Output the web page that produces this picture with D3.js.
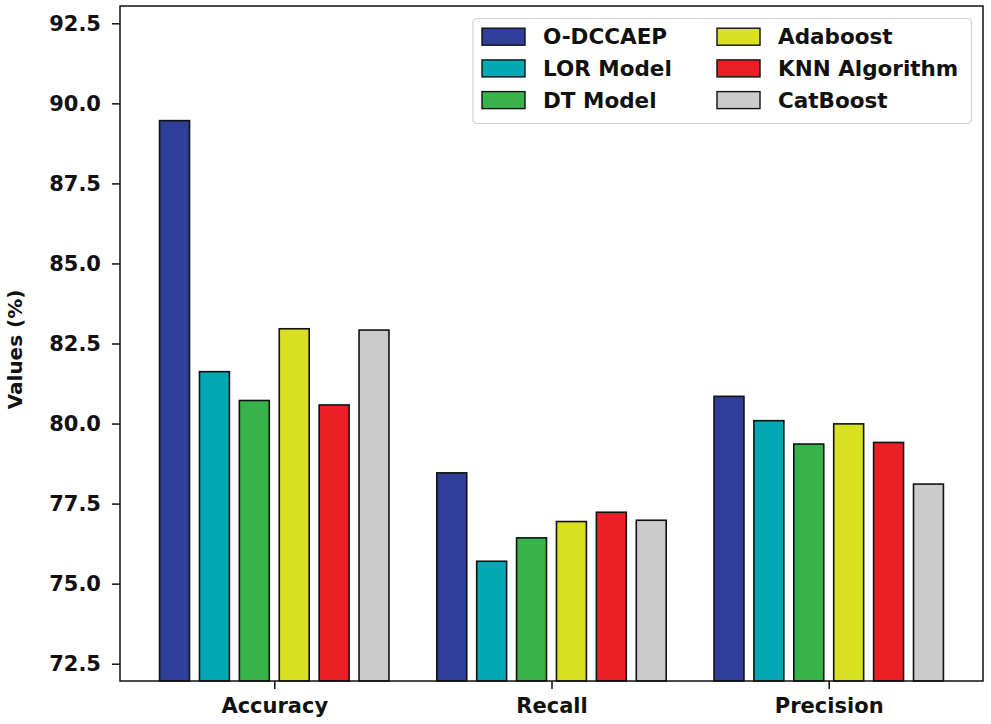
<!DOCTYPE html>
<html><head><meta charset="utf-8">
<script src="https://cdn.jsdelivr.net/npm/d3@7"></script>
<style>body{margin:0;background:#fff}svg{display:block}text{font-family:"DejaVu Sans",sans-serif;font-weight:bold}</style>
</head><body><svg id="c" width="991" height="724"></svg>
<script>
const categories = ["Accuracy", "Recall", "Precision"];
const seriesNames = ["O-DCCAEP", "LOR Model", "DT Model", "Adaboost", "KNN Algorithm", "CatBoost"];
const seriesColors = ["#2f3e98", "#02a9b5", "#37b34a", "#d8e021", "#ec1f26", "#cbcbcb"];
const vODCCAEP = [89.46, 78.46, 80.85];
const vLOR = [81.62, 75.70, 80.09];
const vDT = [80.72, 76.43, 79.36];
const vAda = [82.96, 76.94, 79.99];
const vKNN = [80.58, 77.23, 79.41];
const vCat = [82.92, 76.98, 78.11];
const yTicks = [72.5, 75.0, 77.5, 80.0, 82.5, 85.0, 87.5, 90.0, 92.5];
const allValues = [vODCCAEP, vLOR, vDT, vAda, vKNN, vCat];

const svg = d3.select("#c");
const L = 120, R = 983, T = 6, B = 681;
const x = d3.scaleLinear().domain([-0.5565, 2.5565]).range([L, R]);
const inner = d3.scaleBand().domain(seriesNames).range([-114.7, 114.7]).paddingInner(0.25);
const y = d3.scaleLinear().domain([71.96, 93.04]).range([B, T]);

const data = [];
categories.forEach((c, ci) => seriesNames.forEach((s, si) => data.push({ci, si, v: allValues[si][ci]})));

svg.append("g").selectAll("rect").data(data).join("rect")
  .attr("x", d => x(d.ci) + inner(seriesNames[d.si]))
  .attr("width", inner.bandwidth())
  .attr("y", d => y(d.v))
  .attr("height", d => B - y(d.v))
  .attr("fill", d => seriesColors[d.si])
  .attr("stroke", "#111").attr("stroke-width", 1.6);

// axes
const ya = svg.append("g").attr("transform", `translate(${L},0)`)
  .call(d3.axisLeft(y).tickValues(yTicks).tickFormat(d3.format(".1f")).tickSize(8).tickPadding(11));
const xa = svg.append("g").attr("transform", `translate(0,${B})`)
  .call(d3.axisBottom(x).tickValues([0,1,2]).tickFormat(i => categories[i]).tickSize(8).tickPadding(9));
[ya, xa].forEach(g => {
  g.select(".domain").remove();
  g.selectAll("line").attr("stroke", "#111").attr("stroke-width", 1.5);
  g.selectAll("text").attr("fill", "#111").style("font-size", "21px");
});
svg.append("rect").attr("x", L).attr("y", T).attr("width", R - L).attr("height", B - T)
  .attr("fill", "none").attr("stroke", "#111").attr("stroke-width", 1.5);

svg.append("text").attr("transform", `translate(22,${(T+B)/2 + 6}) rotate(-90)`)
  .attr("text-anchor", "middle").style("font-size", "20px").attr("fill", "#111").text("Values (%)");

// legend
const lg = svg.append("g");
lg.append("rect").attr("x", 473).attr("y", 18.5).attr("width", 498.5).attr("height", 105).attr("rx", 4)
  .attr("fill", "#fff").attr("stroke", "#d0d0d0").attr("stroke-width", 1.2);
seriesNames.forEach((s, i) => {
  const col = Math.floor(i / 3), row = i % 3;
  const px = col ? 717 : 482, ty = 36.7 + row * 31.7;
  lg.append("rect").attr("x", px).attr("y", ty - 8.5).attr("width", 43).attr("height", 17)
    .attr("fill", seriesColors[i]).attr("stroke", "#111").attr("stroke-width", 1.4);
  lg.append("text").attr("x", px + 61).attr("y", ty).attr("dy", "0.36em")
    .style("font-size", "21.5px").attr("fill", "#111").text(s);
});
</script></body></html>
